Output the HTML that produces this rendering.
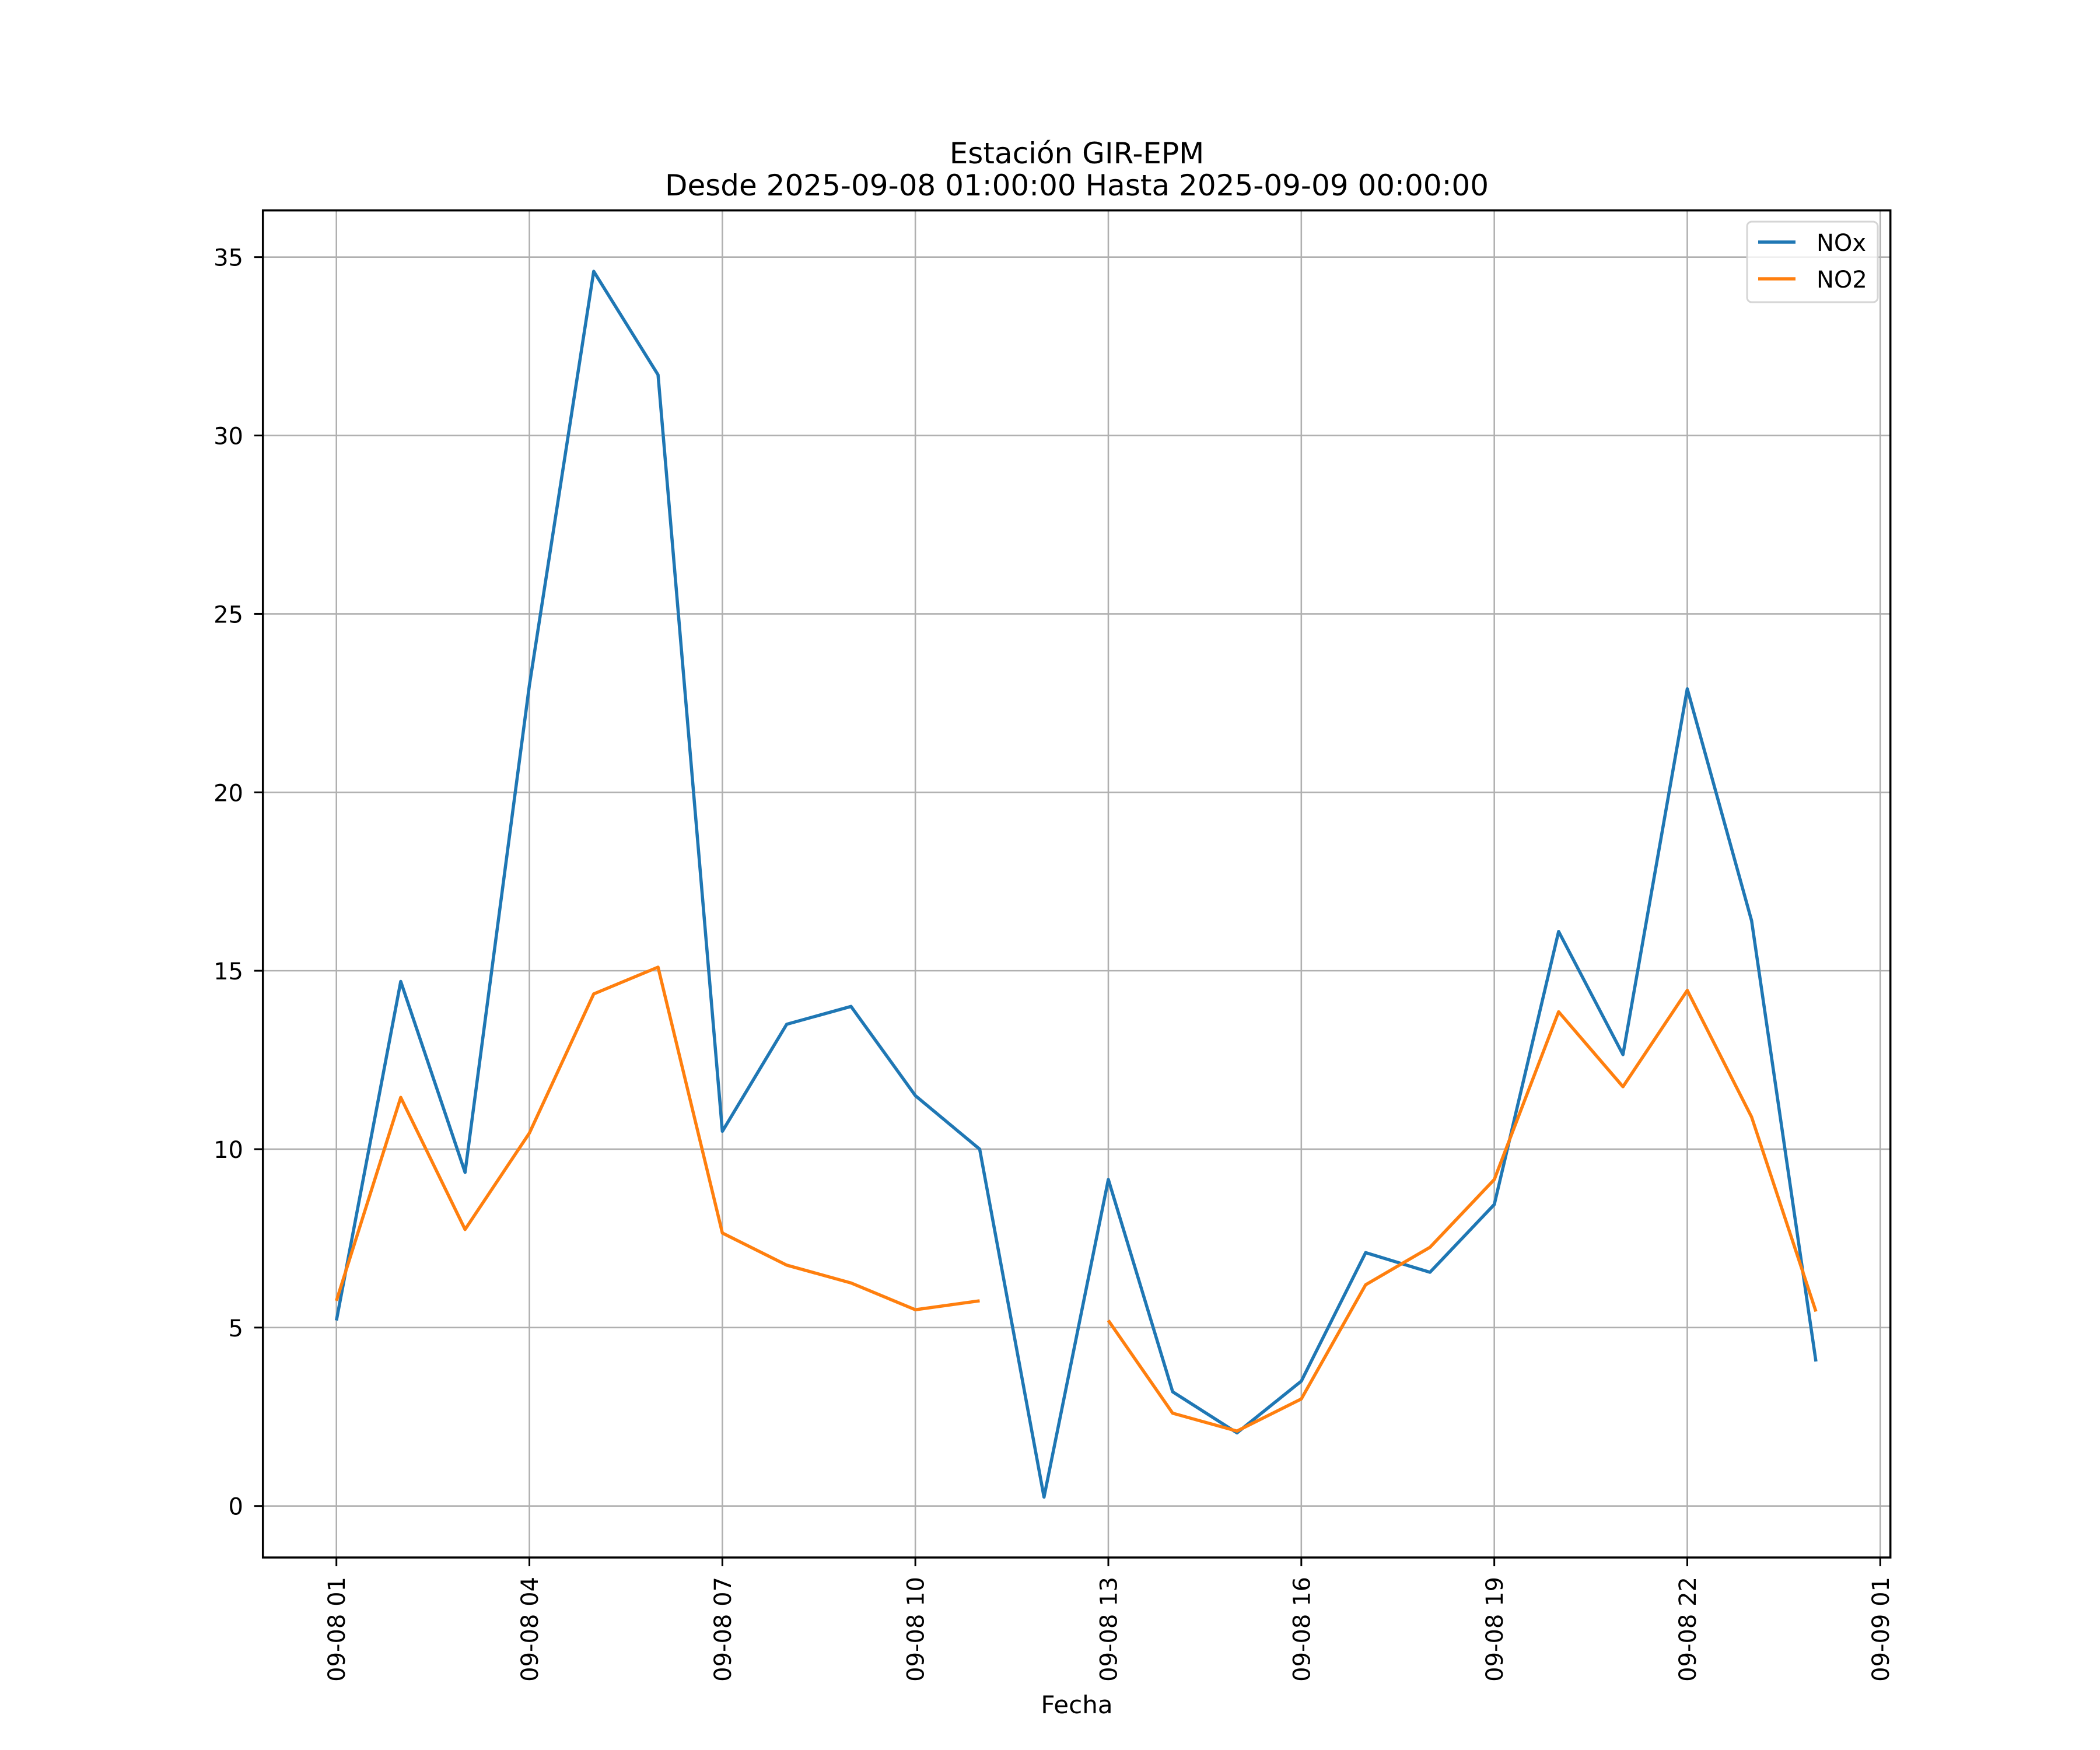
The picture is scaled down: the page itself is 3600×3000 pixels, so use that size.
<!DOCTYPE html>
<html><head><meta charset="utf-8"><style>
html,body{margin:0;padding:0;background:#fff;}
svg{display:block;font-family:"DejaVu Sans","Liberation Sans",sans-serif;}
</style></head><body>
<svg id="chart" width="3600" height="3000" viewBox="0 0 3600 3000" xmlns="http://www.w3.org/2000/svg">
<rect width="3600" height="3000" fill="#fff"/>
<g id="grid"></g>
<g id="series"></g>
<rect x="450.7" y="360.7" width="2790" height="2309.3" fill="none" stroke="#000" stroke-width="3.5"/>
<g id="ticks" font-size="40"></g>
<text x="1846" y="280" font-size="50" text-anchor="middle">Estación GIR-EPM</text>
<text x="1846" y="335" font-size="50" text-anchor="middle">Desde 2025-09-08 01:00:00 Hasta 2025-09-09 00:00:00</text>
<text x="1846" y="2937" font-size="42" text-anchor="middle">Fecha</text>
<g>
<rect x="2995" y="380" width="224" height="138" rx="8" fill="#fff" fill-opacity="0.8" stroke="#d5d5d5" stroke-width="3"/>
<line x1="3014" y1="415" x2="3078" y2="415" stroke="#1f77b4" stroke-width="5.5"/>
<text x="3114" y="430" font-size="40">NOx</text>
<line x1="3014" y1="478" x2="3078" y2="478" stroke="#ff7f0e" stroke-width="5.5"/>
<text x="3114" y="493" font-size="40">NO2</text>
</g>
</svg>
<script>
const hours = [1,2,3,4,5,6,7,8,9,10,11,12,13,14,15,16,17,18,19,20,21,22,23,24];
const noxValues = [5.2,14.7,9.35,23.0,34.6,31.7,10.5,13.5,14.0,11.5,10.0,0.25,9.15,3.2,2.05,3.5,7.1,6.55,8.45,16.1,12.65,22.9,16.4,4.05];
const no2Values = [5.75,11.45,7.75,10.45,14.35,15.1,7.65,6.75,6.25,5.5,5.75,null,5.2,2.6,2.1,3.0,6.2,7.25,9.15,13.85,11.75,14.45,10.9,5.45];
const yTicks = [0,5,10,15,20,25,30,35];
const xTickHours = [1,4,7,10,13,16,19,22,25];
const xTickLabels = ["09-08 01","09-08 04","09-08 07","09-08 10","09-08 13","09-08 16","09-08 19","09-08 22","09-09 01"];

const NS="http://www.w3.org/2000/svg";
const L=450.7,R=3240.7,T=360.7,B=2670;
const xs = h => 576.7 + (h-1)*(3223.3-576.7)/24;
const ys = v => 2581.7 - v*(2581.7-440.7)/35;
function mk(tag, attrs, parent){const e=document.createElementNS(NS,tag);for(const k in attrs)e.setAttribute(k,attrs[k]);parent.appendChild(e);return e;}
const grid=document.getElementById('grid'), ticks=document.getElementById('ticks'), series=document.getElementById('series');
yTicks.forEach(v=>{
  const y=ys(v);
  const g=mk('line',{x1:L,x2:R,y1:y,y2:y,stroke:'#b0b0b0','stroke-width':2.6},grid);
  
  
  const t=mk('line',{x1:L-15,x2:L,y1:y,y2:y,stroke:'#000','stroke-width':3},ticks);
  
  
  const l=mk('text',{x:417,y:y+15,'text-anchor':'end'},ticks); l.textContent=v;
  
  
});
xTickHours.forEach((h,i)=>{
  const x=xs(h);
  const g=mk('line',{x1:x,x2:x,y1:T,y2:B,stroke:'#b0b0b0','stroke-width':2.6},grid);
  
  
  const t=mk('line',{x1:x,x2:x,y1:B,y2:B+15,stroke:'#000','stroke-width':3},ticks);
  
  
  const l=mk('text',{x:0,y:0,'text-anchor':'end',transform:`translate(${x+14.5},2703) rotate(-90)`},ticks); l.textContent=xTickLabels[i];
  
  
});
function drawSeries(vals,color,name){
  let d='',pen=false;
  vals.forEach((v,i)=>{
    if(v===null){pen=false;return;}
    d+=(pen?'L':'M')+xs(hours[i]).toFixed(2)+' '+ys(v).toFixed(2)+' ';pen=true;
  });
  const p=mk('path',{d:d,fill:'none',stroke:color,'stroke-width':5.5,'stroke-linejoin':'round'},series);
  
  
}
drawSeries(noxValues,'#1f77b4','nox-line');
drawSeries(no2Values,'#ff7f0e','no2-line');
</script>
</body></html>
